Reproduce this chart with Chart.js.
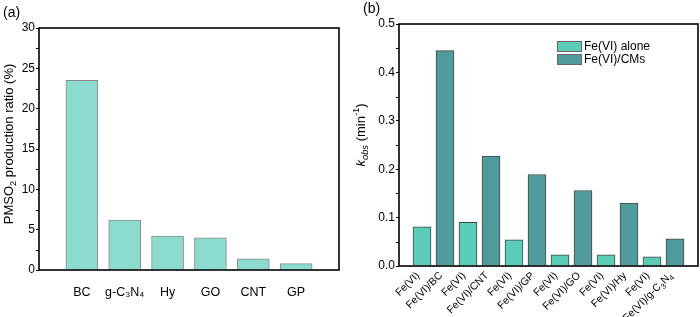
<!DOCTYPE html>
<html>
<head>
<meta charset="utf-8">
<script src="https://cdn.jsdelivr.net/npm/chart.js@4"></script>
<style>
  body { margin: 0; background: #fff; }
  #wrap { position: relative; width: 700px; height: 317px; }
  canvas { position: absolute; top: 0; }
</style>
</head>
<body>
<div id="wrap">
  <canvas id="chartA" width="350" height="317" style="left:0"></canvas>
  <canvas id="chartB" width="350" height="317" style="left:350px"></canvas>
</div>
<script>
// panel (a): PMSO2 production ratio
const carbons = ['BC', 'g-C₃N₄', 'Hy', 'GO', 'CNT', 'GP'];
const pmso2Ratio = [23.5, 6.2, 4.2, 4.0, 1.4, 0.8];

// panel (b): kobs
const materials = ['BC', 'CNT', 'GP', 'GO', 'Hy', 'g-C₃N₄'];
const kAlone = [0.081, 0.090, 0.054, 0.023, 0.023, 0.019];
const kWithCM = [0.445, 0.227, 0.189, 0.156, 0.130, 0.056];

const FONT = '"Liberation Sans", Arial, sans-serif';
Chart.defaults.font.family = FONT;
Chart.defaults.color = '#000';

// split '₃' style digits into subscript parts
function richParts(str) {
  const parts = [];
  for (const ch of str) {
    const c = ch.charCodeAt(0);
    const sub = c >= 0x2080 && c <= 0x2089;
    const t = sub ? String(c - 0x2080) : ch;
    const last = parts[parts.length - 1];
    if (last && !!last.sub === sub) last.t += t;
    else parts.push(sub ? { t, sub: true } : { t });
  }
  return parts;
}

// draw text with sub/superscripts
function drawRich(ctx, parts, x0, y0, size, angle, align, base) {
  const fontOf = p => (p.it ? 'italic ' : '') + (p.sub || p.sup ? size * 0.72 : size) + 'px ' + FONT;
  let total = 0;
  parts.forEach(p => { ctx.font = fontOf(p); total += ctx.measureText(p.t).width; });
  ctx.save();
  ctx.translate(x0, y0);
  ctx.rotate(angle);
  ctx.fillStyle = '#000';
  ctx.textBaseline = 'alphabetic';
  ctx.textAlign = 'left';
  let x = align === 'right' ? -total : -total / 2;
  parts.forEach(p => {
    ctx.font = fontOf(p);
    let dy = 0;
    if (p.sub) dy = size * 0.28;
    if (p.sup) dy = -size * 0.42;
    ctx.fillText(p.t, x, base + dy);
    x += ctx.measureText(p.t).width;
  });
  ctx.restore();
}

const framePlugin = {
  id: 'frame',
  afterDraw(chart, args, o) {
    const ctx = chart.ctx, a = chart.chartArea, y = chart.scales.y, xs = chart.scales.x;
    ctx.save();
    ctx.strokeStyle = '#000';
    ctx.lineWidth = 1;
    const t = y.ticks;
    for (let i = 0; i < t.length - 1; i++) {
      const py = Math.round(y.getPixelForValue((t[i].value + t[i + 1].value) / 2)) + 0.5;
      ctx.beginPath(); ctx.moveTo(a.left - 3, py); ctx.lineTo(a.left, py); ctx.stroke();
    }
    ctx.lineWidth = 1.6;
    ctx.strokeRect(a.left, a.top, a.right - a.left, a.bottom - a.top);

    ctx.fillStyle = '#000';
    ctx.font = '14px ' + FONT;
    ctx.textBaseline = 'middle';
    ctx.fillText(o.panel, o.px, o.py);
    drawRich(ctx, o.title, o.tx, o.ty, 13, -Math.PI / 2, 'center', 13 * 0.36);

    if (o.rotLabels) {
      chart.data.labels.forEach((lab, i) => {
        if (!lab) return;
        const px = xs.getPixelForValue(i);
        drawRich(ctx, richParts(lab), px - 2, a.bottom + 10, 10.5, -Math.PI / 4, 'right', 0);
      });
    }

    if (o.legend) {
      chart.data.datasets.forEach((ds, i) => {
        const bx = o.legend.x, by = o.legend.y + i * 13;
        ctx.fillStyle = ds.backgroundColor;
        ctx.fillRect(bx, by, 25, 11);
        ctx.strokeStyle = '#666';
        ctx.lineWidth = 1;
        ctx.strokeRect(bx + 0.5, by + 0.5, 24, 10);
        ctx.fillStyle = '#000';
        ctx.font = '12px ' + FONT;
        ctx.fillText(ds.label, bx + 27, by + 6);
      });
    }
    ctx.restore();
  }
};

function yAxis(max, step, width, fmt) {
  return {
    min: 0, max: max,
    ticks: { stepSize: step, font: { size: 12 }, padding: 1, callback: fmt },
    grid: { drawOnChartArea: false, tickLength: 3, color: '#000', lineWidth: 1 },
    border: { display: false },
    afterFit: s => { s.width = width; }
  };
}

// ---- chart (a)
new Chart(document.getElementById('chartA'), {
  type: 'bar',
  data: {
    labels: ['', ...carbons, ''],
    datasets: [{
      label: 'PMSO2',
      data: [null, ...pmso2Ratio, null],
      backgroundColor: '#8BDBCE',
      borderColor: '#8a8a8a',
      borderWidth: 1,
      barThickness: 32
    }]
  },
  options: {
    responsive: false,
    animation: false,
    layout: { padding: { left: 0, top: 28, right: 11, bottom: 0 } },
    scales: {
      x: {
        offset: false,
        grid: { display: false },
        border: { display: false },
        ticks: { font: { size: 12.5 }, padding: 7, autoSkip: false, maxRotation: 0 },
        afterFit: s => { s.height = 47; }
      },
      y: yAxis(30, 5, 39, v => v)
    },
    plugins: {
      legend: { display: false },
      tooltip: { enabled: false },
      frame: {
        panel: '(a)', px: 3, py: 13,
        title: [{ t: 'PMSO' }, { t: '2', sub: true }, { t: ' production ratio (%)' }],
        tx: 8, ty: 144
      }
    }
  },
  plugins: [framePlugin]
});

// ---- chart (b)
const labelsB = [''];
const aloneData = [null];
const cmData = [null];
materials.forEach((m, i) => {
  labelsB.push('Fe(VI)', 'Fe(VI)/' + m);
  aloneData.push(kAlone[i], null);
  cmData.push(null, kWithCM[i]);
});
labelsB.push('');
aloneData.push(null);
cmData.push(null);

new Chart(document.getElementById('chartB'), {
  type: 'bar',
  data: {
    labels: labelsB,
    datasets: [{
      label: 'Fe(VI) alone',
      data: aloneData,
      backgroundColor: '#5ACCB7',
      borderColor: '#444',
      borderWidth: 1,
      barThickness: 18,
      grouped: false
    }, {
      label: 'Fe(VI)/CMs',
      data: cmData,
      backgroundColor: '#509B9B',
      borderColor: '#444',
      borderWidth: 1,
      barThickness: 18,
      grouped: false
    }]
  },
  options: {
    responsive: false,
    animation: false,
    layout: { padding: { left: 0, top: 24, right: 2, bottom: 0 } },
    scales: {
      x: {
        offset: false,
        grid: { display: false },
        border: { display: false },
        ticks: { display: false },
        afterFit: s => { s.height = 51; }
      },
      y: yAxis(0.5, 0.1, 49, v => v.toFixed(1))
    },
    plugins: {
      legend: { display: false },
      tooltip: { enabled: false },
      frame: {
        panel: '(b)', px: 13, py: 9,
        title: [{ t: 'k', it: true }, { t: 'obs', it: true, sub: true }, { t: ' (min' }, { t: '-1', sup: true }, { t: ')' }],
        tx: 10, ty: 135,
        rotLabels: true,
        legend: { x: 207, y: 41 }
      }
    }
  },
  plugins: [framePlugin]
});
</script>
</body>
</html>
